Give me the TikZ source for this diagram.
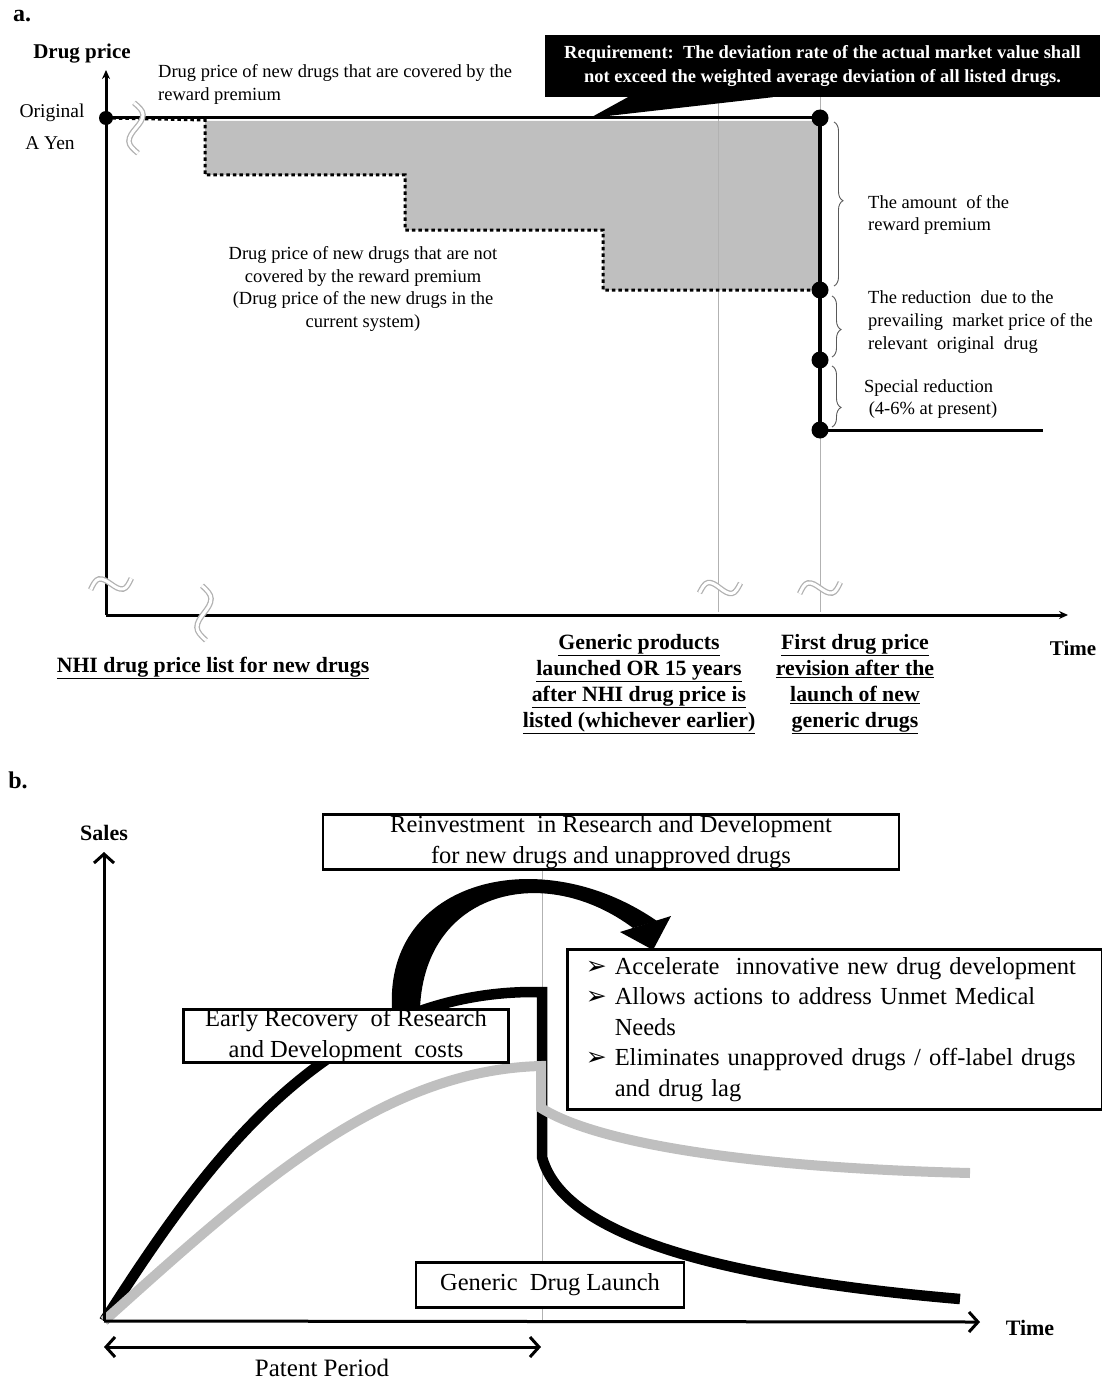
\documentclass[tikz,border=0pt]{standalone}
\usepackage{fontspec}
\setmainfont{Liberation Serif}
\newfontfamily\symfont{DejaVu Sans}
\usetikzlibrary{arrows.meta,decorations.pathreplacing}
\newcommand\smalltext{\fontsize{18.5}{22.8}\selectfont}
\newcommand\labeltext{\fontsize{21.8}{26}\selectfont\bfseries}
\newcommand\boxtext{\fontsize{24.5}{30.5}\selectfont}
\newcommand\pointer{{\symfont\fontsize{25}{22}\selectfont ➢}}
\tikzset{
  brk/.pic={\draw[gray!60, line width=1.3pt, double=white, double distance=3pt]
        (-21,2) sin (-11,-7) cos (0,0) sin (11,7) cos (21,-2);},
  dot/.style={circle, fill, inner sep=0pt, minimum size=#1},
  bbox/.style={draw, line width=2.5pt, fill=white, inner sep=0pt, font=\boxtext, align=center},
  guide/.style={gray!60, line width=0.6pt},
  bracket/.style={decorate, black!65, line width=0.9pt, decoration={brace, amplitude=9pt, aspect=#1}},
}
\begin{document}
\begin{tikzpicture}[x=1pt, y=-1pt, inner sep=0pt,
    barb/.style={line width=3pt, -{Straight Barb[length=9pt, width=20pt]}}]
\useasboundingbox (0,0) rectangle (1102,1383);

% a. drug price over time
\node[font=\fontsize{24}{24}\selectfont\bfseries] (tagA) at (22,16) {a.};
\node[font=\fontsize{21}{24}\selectfont\bfseries] (priceAx) at (82,54) {Drug price};
\node[font=\fontsize{19.5}{22}\selectfont] (orig) at (52,113) {Original};
\node[font=\fontsize{19.5}{22}\selectfont] (ayen) at (50,143) {A Yen};

\fill[gray!50] (205,121) -- (820,121) -- (820,290) -- (603,290) -- (603,230)
      -- (405,230) -- (405,175) -- (205,175) -- cycle;
\draw[guide] (718,97) -- (718,612) (820,97) -- (820,612);

\node[dot=14pt] (d0) at (106,118) {};
\node[dot=17pt] (d1) at (820,118) {};
\node[dot=17pt] (d2) at (820,290) {};
\node[dot=17pt] (d3) at (820,360) {};
\node[dot=17pt] (d4) at (820,430) {};
\coordinate (tail) at (1043,430);

\draw[line width=3pt, dash pattern=on 3.5pt off 3pt] (d0.center) -- (205,120) -- (205,175)
      -- (405,175) -- (405,230) -- (603,230) -- (603,290) -- (d2.center);
\draw[line width=3pt] (d0.center) -- (d1.center);
\draw[line width=4pt] (d1.center) -- (d4.center);
\draw[line width=3pt] (d4.center) -- (tail);

\draw[line width=3pt, -{Stealth[length=9pt, width=8pt]}] (106,615) -- (106,70);
\draw[line width=3pt, -{Stealth[length=9pt, width=8pt]}] (106,615) -- (1068,615);

\pic[rotate=10] at (111,584) {brk};
\pic[rotate=90, xscale=1.3] at (204,613) {brk};
\pic[rotate=90, xscale=1.2] at (136,128) {brk};
\pic[rotate=8] at (720,588) {brk};
\pic[rotate=10] at (820,588) {brk};

\node[fill=black, text=white, minimum width=555pt, minimum height=62pt, align=center,
      font=\fontsize{18.5}{24}\selectfont\bfseries] (req) at (822.5,66)
  {Requirement:\ \ The deviation rate of the actual market value shall\\
   not exceed the weighted average deviation of all listed drugs.};
\fill (590,118) -- ([xshift=83pt]req.south west) -- ([xshift=228pt]req.south west) -- cycle;

\node[font=\smalltext, anchor=north west, align=left] (covlab) at (158,64)
  {Drug price of new drugs that are covered by the\\reward premium};
\node[font=\smalltext, align=center] (notcov) at (363,289)
  {Drug price of new drugs that are not\\covered by the reward premium\\
   (Drug price of the new drugs in the\\current system)};

\draw[bracket=0.48] (834,122) -- (834,286);
\draw[bracket=0.55] (832,296) -- (832,357);
\draw[bracket=0.68] (832,366) -- (832,427);
\node[font=\smalltext, anchor=west, align=left] (rewlab) at (868,215)
  {The amount\ \ of the\\reward premium};
\node[font=\smalltext, anchor=west, align=left] (redlab) at (868,322)
  {The reduction\ \ due to the\\prevailing\ \ market price of the\\relevant\ \ original\ \ drug};
\node[font=\smalltext, anchor=west, align=left] (speclab) at (864,399)
  {Special reduction\\\ (4-6\% at present)};

\node[font=\labeltext] (nhi) at (213,668) {\underline{NHI drug price list for new drugs}};
\node[font=\labeltext, align=center] (genlab) at (639,684)
  {\underline{Generic products}\\\underline{launched OR 15 years}\\
   \underline{after NHI drug price is}\\\underline{listed (whichever earlier)}};
\node[font=\labeltext, align=center] (firstlab) at (855,684)
  {\underline{First drug price}\\\underline{revision after the}\\
   \underline{launch of new}\\\underline{generic drugs}};
\node[font=\fontsize{21}{24}\selectfont\bfseries] (timeA) at (1073,648) {Time};

% b. sales over time
\node[font=\fontsize{24}{24}\selectfont\bfseries] (tagB) at (18,780) {b.};
\node[font=\fontsize{22}{24}\selectfont\bfseries] (salesAx) at (104,833) {Sales};
\coordinate (bO) at (104,1321);
\draw[guide] (542,870) -- (542,1322);

\draw[line width=10.5pt, line join=miter] (bO) .. controls (195,1180) and (320,990) .. (537,992)
      -- (542,992) -- (542,1157) .. controls (560,1225) and (680,1275) .. (960,1299);
\draw[gray!50, line width=10pt] (bO) .. controls (250,1190) and (380,1070) .. (541,1066)
      -- (541,1108) .. controls (600,1145) and (760,1168) .. (970,1173);

\draw[barb] (bO) -- (104,852);
\draw[barb] (bO) -- (980,1322);
\draw[line width=3pt, {Straight Barb[length=9pt, width=20pt]}-{Straight Barb[length=9pt, width=20pt]}]
  (104,1347) -- (541,1347);
\node[font=\fontsize{25}{28}\selectfont] (patent) at (322,1368) {Patent Period};
\node[font=\fontsize{22}{24}\selectfont\bfseries] (timeB) at (1030,1328) {Time};

\node[bbox, minimum width=576pt, minimum height=55pt] (reinv) at (611,842)
  {Reinvestment\ \ in Research and Development\\for new drugs and unapproved drugs};
\node[bbox, anchor=north west, minimum width=535pt, minimum height=160pt,
      text width=520pt, align=left] (effects) at (566,948)
  {\hspace*{11pt}\makebox[29pt][l]{\pointer}Accelerate\ \ innovative new drug development\\
   \hspace*{11pt}\makebox[29pt][l]{\pointer}Allows actions to address Unmet Medical\\
   \hspace*{40pt}Needs\\
   \hspace*{11pt}\makebox[29pt][l]{\pointer}Eliminates unapproved drugs / off-label drugs\\
   \hspace*{40pt}and drug lag};
\node[bbox, minimum width=325pt, minimum height=52pt] (recov) at (346,1036)
  {Early Recovery\ \ of Research\\and Development\ \ costs};
\node[bbox, minimum width=268pt, minimum height=45pt] (launch) at (550,1285)
  {Generic\ \ Drug Launch};

% tapered arrow from recovery to the effects
\fill ([xshift=46pt]recov.north) .. controls (385,880) and (540,840) .. (657,921)
      -- (633,928) .. controls (545,862) and (425,890) .. ([xshift=74pt]recov.north) -- cycle;
\fill (620,932) -- (671,916) -- ([xshift=87pt, yshift=-2pt]effects.north west) -- cycle;
\end{tikzpicture}
\end{document}
